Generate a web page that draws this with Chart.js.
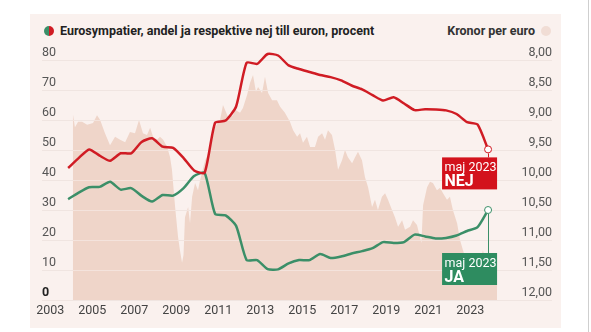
<!DOCTYPE html>
<html>
<head>
<meta charset="utf-8">
<script src="https://cdn.jsdelivr.net/npm/chart.js@4/dist/chart.umd.min.js"></script>
<style>
body { margin: 0; background: #fff; font-family: Roboto, sans-serif; }
#wrap { position: relative; width: 591px; height: 332px; overflow: hidden; }
#panel { position: absolute; left: 30px; top: 14px; width: 531px; height: 314px; background: #faf1ee; }
#edge { position: absolute; left: 588px; top: 0; width: 1px; height: 332px; background: #cfcfcf; }
canvas { position: absolute; left: 0; top: 0; }
.leg { position: absolute; top: 23px; font-weight: 700; font-size: 12.5px; line-height: 16px; color: #222; white-space: nowrap; }
.dot { position: absolute; top: 26px; width: 10px; height: 10px; border-radius: 50%; }
</style>
</head>
<body>
<div id="wrap">
  <div id="panel"></div>
  <div id="edge"></div>
  <div class="dot" style="left:44px;background:linear-gradient(90deg,#3b8f68 50%,#d01c24 50%)"></div>
  <div class="leg" style="left:60px">Eurosympatier, andel ja respektive nej till euron, procent</div>
  <div class="leg" style="right:56px;color:#333">Kronor per euro</div>
  <div class="dot" style="left:541px;background:#f1ddd5"></div>
  <canvas id="theGraph" width="591" height="332"></canvas>
</div>
<script>
// SCB halvårsmätningar (maj / nov)
var surveyLabels = [
  'maj 2003','nov 2003','maj 2004','nov 2004','maj 2005','nov 2005','maj 2006','nov 2006',
  'maj 2007','nov 2007','maj 2008','nov 2008','maj 2009','nov 2009','maj 2010','nov 2010',
  'maj 2011','nov 2011','maj 2012','nov 2012','maj 2013','nov 2013','maj 2014','nov 2014',
  'maj 2015','nov 2015','maj 2016','nov 2016','maj 2017','nov 2017','maj 2018','nov 2018',
  'maj 2019','nov 2019','maj 2020','nov 2020','maj 2021','nov 2021','maj 2022','nov 2022',
  'maj 2023'
];
var nejValues = [44.0,47.3,50.2,48.1,46.4,48.9,48.9,52.7,53.9,51.1,50.7,47.3,43.2,42.4,59.1,59.8,
  64.5,79.1,78.7,82.0,81.5,78.2,77.0,76.0,75.0,74.3,73.2,71.5,70.2,68.3,66.5,67.6,
  65.5,63.3,63.6,63.5,63.2,62.0,59.3,58.5,50.2];
var jaValues = [33.6,35.8,37.6,37.7,39.4,36.8,37.3,34.7,32.8,35.0,34.8,37.3,41.3,42.4,28.7,28.2,
  24.7,13.3,13.3,10.3,10.2,12.2,13.3,13.3,15.3,14.0,14.5,15.5,16.3,17.3,19.3,19.0,
  19.3,21.8,21.2,20.5,20.7,21.5,23.0,24.3,30.0];

// kronor per euro (årtal som decimaltal)
var kronaDates = [2003.60,2003.70,2003.85,2004.04,2004.28,2004.56,2004.75,2004.90,2005.13,2005.37,
  2005.61,2005.85,2006.09,2006.32,2006.56,2006.75,2006.94,2007.13,2007.28,2007.42,
  2007.61,2007.75,2007.90,2008.09,2008.23,2008.32,2008.47,2008.61,2008.70,2008.80,
  2008.87,2008.94,2009.09,2009.18,2009.28,2009.42,2009.56,2009.66,2009.90,2010.13,
  2010.37,2010.61,2010.75,2010.99,2011.23,2011.32,2011.56,2011.70,2011.90,2012.04,
  2012.18,2012.32,2012.42,2012.61,2012.75,2012.90,2013.09,2013.32,2013.47,2013.70,
  2013.94,2014.09,2014.28,2014.42,2014.56,2014.75,2014.90,2015.13,2015.28,2015.47,
  2015.61,2015.75,2015.94,2016.09,2016.23,2016.42,2016.56,2016.70,2016.90,2017.04,
  2017.18,2017.37,2017.51,2017.66,2017.85,2017.99,2018.13,2018.32,2018.47,2018.61,
  2018.80,2018.94,2019.09,2019.28,2019.42,2019.66,2019.80,2019.99,2020.20,2020.28,
  2020.47,2020.61,2020.75,2020.94,2021.09,2021.23,2021.42,2021.56,2021.70,2021.90,
  2022.04,2022.18,2022.37,2022.51,2022.66,2022.85,2022.99,2023.13,2023.32,2023.47,
  2023.66,2023.80];
var kronaValues = [8.90,9.12,9.03,9.03,9.08,9.05,8.92,9.00,9.22,9.42,
  9.28,9.33,9.37,9.20,9.22,9.00,9.22,9.25,9.13,9.28,
  9.33,9.28,9.33,9.45,9.62,9.83,10.45,10.95,11.17,11.38,
  11.25,10.62,10.45,10.72,10.28,10.05,10.17,10.00,9.67,9.50,
  9.12,9.00,8.75,8.95,8.92,8.83,8.88,8.80,8.58,8.38,
  8.25,8.53,8.45,8.55,8.28,8.55,8.67,8.67,8.78,8.88,
  9.03,9.17,9.28,9.22,9.38,9.28,9.45,9.45,9.28,9.22,
  9.33,9.17,9.25,9.50,9.83,9.67,9.50,9.62,9.72,9.62,
  9.53,9.67,9.95,10.12,10.45,10.33,10.50,10.28,10.22,10.33,
  10.50,10.62,10.78,10.67,10.83,10.78,10.67,10.75,11.05,10.42,
  10.12,10.03,10.05,10.17,10.13,10.22,10.33,10.28,10.50,10.72,
  11.00,11.17,11.37,11.25,11.37,11.47,11.37,11.17,11.42,11.58,
  11.67,11.70];

var yearTicks = [2003,2005,2007,2009,2011,2013,2015,2017,2019,2021,2023];

function surveyToYear(label) {
    var parts = label.split(' ');
    var month = parts[0] === 'maj' ? 5 : 11;
    return Number(parts[1]) + (month - 0.5) / 12;
}

function toPoints(xs, ys) {
    return ys.map(function (v, i) { return { x: xs[i], y: v }; });
}

var surveyYears = surveyLabels.map(surveyToYear);
var lastIndex = surveyLabels.length - 1;
var RED = '#d01c24', GREEN = '#3b8f68';

// ljusa rutlinjer ovanpå kronytan
var gridOverArea = {
    id: 'gridOverArea',
    afterDatasetDraw: function (chart, args) {
        if (args.index !== 0) return;
        var ctx = chart.ctx, y = chart.scales.y, a = chart.chartArea;
        ctx.save();
        ctx.strokeStyle = 'rgba(255,255,255,0.35)';
        ctx.lineWidth = 1;
        y.ticks.forEach(function (t) {
            var py = Math.round(y.getPixelForValue(t.value)) + 0.5;
            ctx.beginPath();
            ctx.moveTo(a.left, py);
            ctx.lineTo(a.right, py);
            ctx.stroke();
        });
        ctx.restore();
    }
};

// rutorna "maj 2023 NEJ/JA"
var lastLabels = {
    id: 'lastLabels',
    afterDatasetsDraw: function (chart) {
        var ctx = chart.ctx;
        var boxes = [
            { index: 1, text: 'NEJ', line: RED, fill: '#d3121c', drop: 8 },
            { index: 2, text: 'JA', line: GREEN, fill: '#2e8c60', drop: 43 }
        ];
        boxes.forEach(function (b) {
            var pt = chart.getDatasetMeta(b.index).data[lastIndex];
            var left = pt.x - 46, top = pt.y + b.drop;
            ctx.save();
            ctx.strokeStyle = b.line;
            ctx.lineWidth = 1;
            ctx.beginPath();
            ctx.moveTo(Math.round(pt.x) + 0.5, pt.y + 4);
            ctx.lineTo(Math.round(pt.x) + 0.5, top);
            ctx.stroke();
            ctx.fillStyle = b.fill;
            ctx.fillRect(left, top, 55, 32);
            ctx.fillStyle = '#fff';
            ctx.textBaseline = 'alphabetic';
            ctx.font = '12.5px Roboto';
            ctx.fillText(surveyLabels[lastIndex], left + 2.5, top + 13.5);
            ctx.font = 'bold 16px Roboto';
            ctx.fillText(b.text, left + 2.5, top + 28.5);
            ctx.restore();
        });
    }
};

var tickFont = { family: 'Roboto', size: 12.5 };

var ctx = document.getElementById('theGraph').getContext('2d');
var theGraph = new Chart(ctx, {
    type: 'line',
    data: {
        datasets: [{
            label: 'Kronor per euro',
            data: toPoints(kronaDates, kronaValues),
            yAxisID: 'y2',
            borderWidth: 0,
            pointRadius: 0,
            fill: 'start',
            backgroundColor: '#efd5c9',
            tension: 0,
            order: 3
        }, {
            label: 'Nej',
            data: toPoints(surveyYears, nejValues),
            yAxisID: 'y',
            borderColor: RED,
            borderWidth: 2.5,
            tension: 0.2,
            clip: false,
            pointRadius: function (c) { return c.dataIndex === lastIndex ? 3.5 : 0; },
            pointBackgroundColor: '#fff',
            pointBorderColor: RED,
            pointBorderWidth: 1,
            fill: false,
            order: 1
        }, {
            label: 'Ja',
            data: toPoints(surveyYears, jaValues),
            yAxisID: 'y',
            borderColor: GREEN,
            borderWidth: 2.5,
            tension: 0.2,
            clip: false,
            pointRadius: function (c) { return c.dataIndex === lastIndex ? 3.5 : 0; },
            pointBackgroundColor: '#fff',
            pointBorderColor: GREEN,
            pointBorderWidth: 1,
            fill: false,
            order: 2
        }]
    },
    options: {
        responsive: false,
        animation: false,
        devicePixelRatio: 1,
        layout: { padding: { left: 42, right: 39, top: 60, bottom: 0 } },
        plugins: { legend: { display: false }, tooltip: { enabled: false } },
        scales: {
            x: {
                type: 'linear',
                min: 2002.13,
                max: 2026.42,
                afterBuildTicks: function (s) {
                    s.ticks = yearTicks.map(function (v) { return { value: v }; });
                },
                afterFit: function (s) { s.height = 32; },
                grid: { display: false, drawTicks: false },
                border: { display: false },
                ticks: {
                    autoSkip: false,
                    maxRotation: 0,
                    padding: 3,
                    labelOffset: -10,
                    color: '#444',
                    font: tickFont,
                    callback: function (v) { return String(v); }
                }
            },
            y: {
                position: 'left',
                min: 0,
                max: 80,
                afterFit: function (s) { s.width = 0; },
                border: { display: false },
                grid: { color: '#e8d8d1', drawTicks: false },
                ticks: {
                    stepSize: 10,
                    mirror: true,
                    padding: 0,
                    labelOffset: -7,
                    color: function (c) { return c.tick && c.tick.value === 0 ? '#222' : '#555'; },
                    font: function (c) {
                        return c.tick && c.tick.value === 0
                            ? { family: 'Roboto', size: 12.5, weight: 'bold' }
                            : tickFont;
                    }
                }
            },
            y2: {
                position: 'right',
                min: 8,
                max: 12,
                reverse: true,
                afterFit: function (s) { s.width = 0; },
                border: { display: false },
                grid: { display: false, drawTicks: false },
                ticks: {
                    stepSize: 0.5,
                    mirror: true,
                    padding: 0,
                    labelOffset: -7,
                    color: '#555',
                    font: tickFont,
                    callback: function (v) { return v.toFixed(2).replace('.', ','); }
                }
            }
        }
    },
    plugins: [gridOverArea, lastLabels]
});
</script>
</body>
</html>
